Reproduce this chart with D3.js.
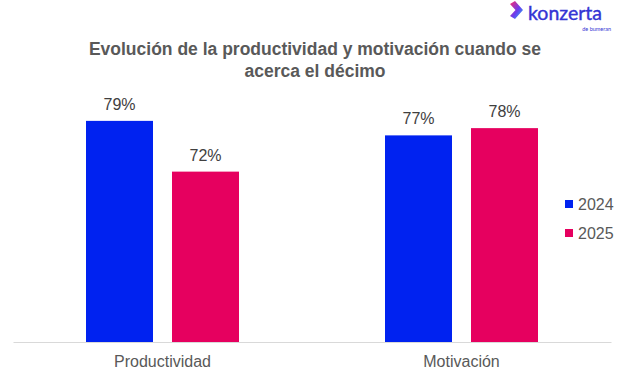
<!DOCTYPE html>
<html>
<head>
<meta charset="utf-8">
<script src="https://cdn.jsdelivr.net/npm/d3@7"></script>
<style>
	body { margin: 0; background: #fff; }
	svg { display: block; font-family: "Liberation Sans", Arial, sans-serif; }
</style>
</head>
<body>
<div id="chart"></div>
<script>
var categories = ["Productividad", "Motivación"],
	years = ["2024", "2025"],
	values2024 = [79, 77],
	values2025 = [72, 78],
	titleLines = ["Evolución de la productividad y motivación cuando se", "acerca el décimo"];

(function() {
	'use strict';

	var width = 621,
		height = 375,
		plot = { left: 13, right: 611, bottom: 342 },
		colors = { "2024": "#0022f0", "2025": "#e6005f" },
		textColor = "#595959",
		barWidth = 67,
		barGap = 19;

	var data = categories.map(function(c, i) {
		return { cat: c, vals: [{ year: years[0], v: values2024[i] }, { year: years[1], v: values2025[i] }] };
	});

	var svg = d3.select("#chart").append("svg")
		.attr("width", width)
		.attr("height", height);

	// title
	svg.append("g").selectAll("text")
		.data(titleLines)
		.join("text")
		.attr("x", 315)
		.attr("y", function(d, i) { return 55 + i * 22; })
		.attr("text-anchor", "middle")
		.attr("font-size", 17.5)
		.attr("font-weight", "bold")
		.attr("fill", textColor)
		.text(function(d) { return d; });

	var x0 = d3.scaleBand()
		.domain(categories)
		.range([plot.left, plot.right]);

	var x1 = d3.scaleBand()
		.domain(years)
		.range([0, barWidth * 2 + barGap])
		.paddingInner(barGap / (barWidth + barGap));

	// axis does not start at zero in the original
	var y = d3.scaleLinear()
		.domain([48.5, 80])
		.range([plot.bottom, plot.bottom - 31.5 * 7.25]);

	var groups = svg.append("g").selectAll("g")
		.data(data)
		.join("g")
		.attr("transform", function(d) {
			return "translate(" + (x0(d.cat) + (x0.bandwidth() - x1.range()[1]) / 2) + ",0)";
		});

	groups.selectAll("rect")
		.data(function(d) { return d.vals; })
		.join("rect")
		.attr("x", function(d) { return x1(d.year); })
		.attr("y", function(d) { return y(d.v); })
		.attr("width", x1.bandwidth())
		.attr("height", function(d) { return plot.bottom - y(d.v); })
		.attr("fill", function(d) { return colors[d.year]; });

	groups.selectAll("text")
		.data(function(d) { return d.vals; })
		.join("text")
		.attr("x", function(d) { return x1(d.year) + x1.bandwidth() / 2; })
		.attr("y", function(d) { return y(d.v) - 11; })
		.attr("text-anchor", "middle")
		.attr("font-size", 16)
		.attr("fill", "#404040")
		.text(function(d) { return d.v + "%"; });

	// x axis
	var xAxis = svg.append("g")
		.attr("transform", "translate(0," + plot.bottom + ")")
		.call(d3.axisBottom(x0).tickSize(0).tickPadding(14));
	xAxis.select(".domain").attr("stroke", "#d9d9d9").attr("stroke-width", 1.2);
	xAxis.selectAll("text")
		.attr("font-family", "Liberation Sans, Arial, sans-serif")
		.attr("font-size", 16)
		.attr("fill", textColor);

	// legend
	var legend = svg.append("g").selectAll("g")
		.data(years)
		.join("g")
		.attr("transform", function(d, i) { return "translate(565," + (200 + i * 29) + ")"; });
	legend.append("rect")
		.attr("width", 8)
		.attr("height", 8)
		.attr("fill", function(d) { return colors[d]; });
	legend.append("text")
		.attr("x", 13)
		.attr("y", 10)
		.attr("font-size", 16)
		.attr("fill", textColor)
		.text(function(d) { return d; });

	// logo
	var defs = svg.append("defs");
	var grad = defs.append("linearGradient")
		.attr("id", "logoGrad")
		.attr("x1", "0").attr("y1", "0").attr("x2", "1").attr("y2", "1");
	grad.append("stop").attr("offset", "0%").attr("stop-color", "#ff2a6a");
	grad.append("stop").attr("offset", "55%").attr("stop-color", "#6a3cf0");
	grad.append("stop").attr("offset", "100%").attr("stop-color", "#19c8f0");

	var logo = svg.append("g").attr("transform", "translate(510,1)");
	logo.append("path")
		.attr("d", "M0,3 L5,0 L13,9 L5,18 L0,15 L5.5,9 Z")
		.attr("fill", "url(#logoGrad)");
	logo.append("text")
		.attr("x", 18)
		.attr("y", 19)
		.attr("font-family", "Lato, 'Noto Sans', sans-serif")
		.attr("font-size", 19.5)
		.attr("fill", "#3434d4")
		.attr("stroke", "#3434d4")
		.attr("stroke-width", 0.4)
		.text("konzerta");
	logo.append("text")
		.attr("x", 101)
		.attr("y", 30)
		.attr("text-anchor", "end")
		.attr("font-family", "Lato, 'Noto Sans', sans-serif")
		.attr("font-size", 5.5)
		.attr("fill", "#3434d4")
		.text("de bumeran");
})();
</script>
</body>
</html>
